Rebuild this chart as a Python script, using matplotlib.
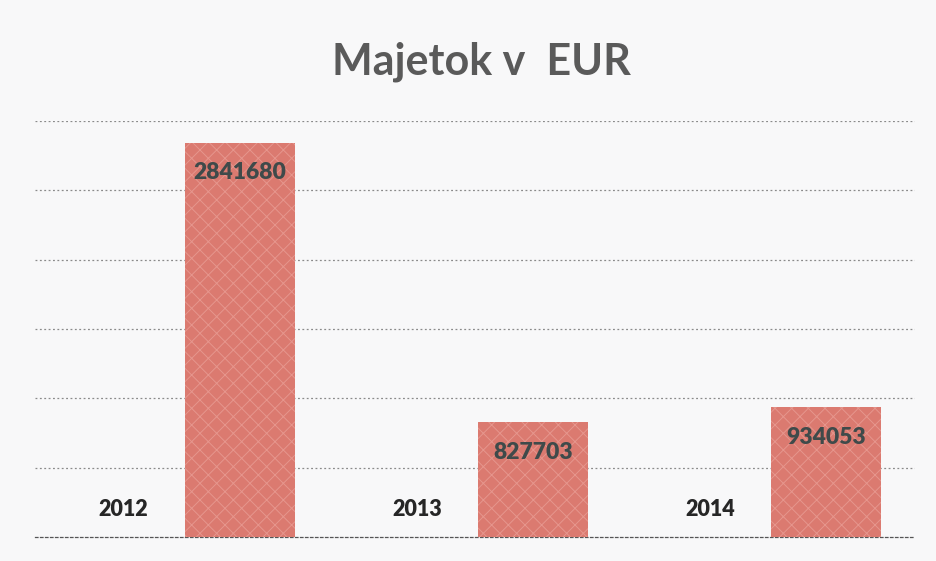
import matplotlib
matplotlib.use("Agg")
import matplotlib.pyplot as plt
import numpy as np

# Data
categories = ["2012", "2013", "2014"]
years = [2012, 2013, 2014]
majetok = [2841680, 827703, 934053]
title = "Majetok v  EUR"

plt.rcParams['font.family'] = ['Lato', 'DejaVu Sans']
plt.rcParams['hatch.linewidth'] = 0.7

fig = plt.figure(figsize=(9.37, 5.61), dpi=100, facecolor='#f8f8f9')
ax = fig.add_axes([0.0374, 0.0428, 0.939, 0.7415])
ax.set_facecolor('none')

x = np.arange(len(categories))
w = 0.375
off = 0.198

yb = ax.bar(x - off, years, width=w, color='none', edgecolor='none')
vb = ax.bar(x + off, majetok, width=w, color='#db7a70', edgecolor='#e6968d',
            hatch='xx', linewidth=0, zorder=3)

ax.set_xlim(-0.5, 2.5)
ax.set_ylim(0, 3000000)
ax.set_yticks(np.arange(500000, 3000001, 500000))
ax.grid(axis='y', color='#8a8a8a', linestyle=(0, (1.5, 2)), linewidth=0.9, zorder=0)
ax.set_axisbelow(True)
ax.set_xticks([])
ax.tick_params(left=False, labelleft=False, bottom=False)
for s in ['top', 'right', 'left']:
    ax.spines[s].set_visible(False)
ax.spines['bottom'].set_color('#555555')
ax.spines['bottom'].set_linestyle((0, (2, 2)))
ax.spines['bottom'].set_linewidth(0.9)

# year labels (outside end of tiny bars)
for rect, lab in zip(yb, categories):
    ax.annotate(lab, xy=(rect.get_x() + rect.get_width() / 2, rect.get_height()),
                xytext=(0, 12), textcoords='offset points', ha='center', va='bottom',
                fontsize=15.5, fontweight='heavy', color='#262626')

# value labels (inside end)
for rect, v in zip(vb, majetok):
    ax.annotate(str(v), xy=(rect.get_x() + rect.get_width() / 2, rect.get_height()),
                xytext=(0, -14), textcoords='offset points', ha='center', va='top',
                fontsize=16.5, fontweight='heavy', color='#3f4a4a', zorder=4)

fig.text(0.514, 1 - 62 / 561, title, ha='center', va='center',
         fontsize=31, fontweight='bold', color='#5a5a5a')

fig.savefig('out.png', dpi=100, facecolor=fig.get_facecolor())
